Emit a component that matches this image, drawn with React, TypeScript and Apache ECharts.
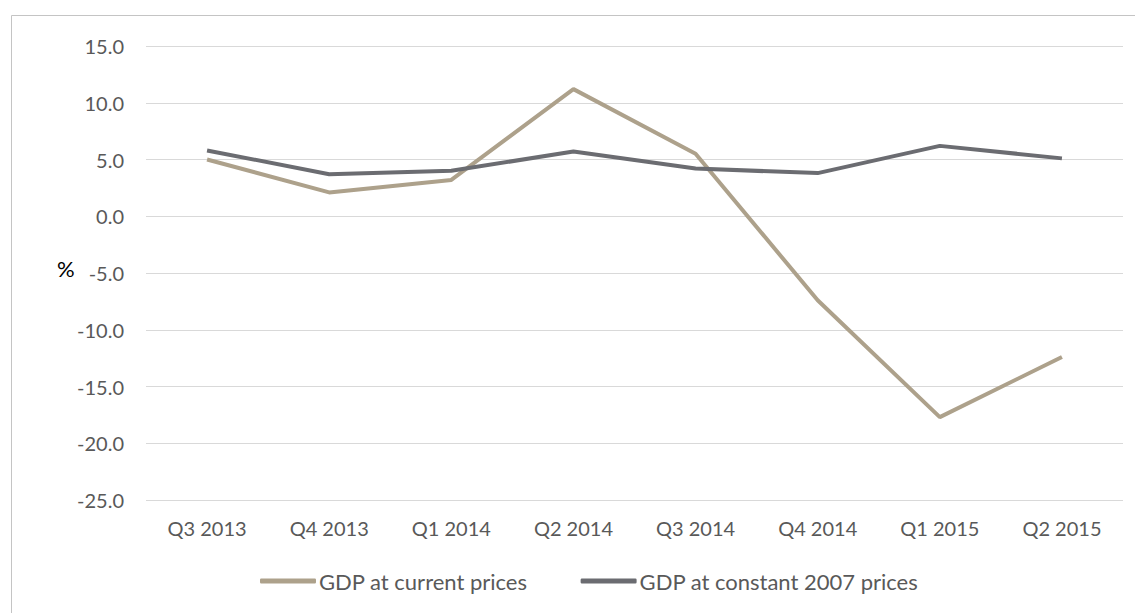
import React, { useEffect, useRef } from "react";
import * as echarts from "echarts";

const categories = ["Q3 2013", "Q4 2013", "Q1 2014", "Q2 2014", "Q3 2014", "Q4 2014", "Q1 2015", "Q2 2015"];
const currentPrices = [5.0, 2.1, 3.2, 11.2, 5.5, -7.4, -17.7, -12.4];
const constantPrices = [5.8, 3.7, 4.0, 5.7, 4.2, 3.8, 6.2, 5.1];
const seriesNames = ["GDP at current prices", "GDP at constant 2007 prices"];

const FONT = "Lato, 'Open Sans', sans-serif";

export default function App() {
  const ref = useRef<HTMLDivElement>(null);
  useEffect(() => {
    if (!ref.current) return;
    const chart = echarts.init(ref.current, null, { renderer: "svg" });
    chart.setOption({
      animation: false,
      backgroundColor: "#ffffff",
      textStyle: { fontFamily: FONT },
      graphic: [
        {
          type: "polyline",
          shape: { points: [[11.5, 613], [11.5, 15.5], [1135, 15.5]] },
          style: { stroke: "#C4C4C4", lineWidth: 1, fill: "none" },
          silent: true,
        },
        {
          type: "text",
          left: 57,
          top: 257,
          style: { text: "%", fontSize: 22, fill: "#000000", fontFamily: FONT },
        },
      ],
      grid: { left: 146, right: 12, top: 46, bottom: 113, containLabel: false },
      legend: {
        bottom: 16,
        left: 255,
        itemWidth: 56,
        itemHeight: 5,
        itemGap: 53,
        icon: "roundRect",
        data: seriesNames,
        textStyle: { color: "#595959", fontSize: 22, fontFamily: FONT, padding: [0, 0, 0, -2] },
      },
      xAxis: {
        type: "category",
        data: categories,
        boundaryGap: true,
        axisLine: { show: false },
        axisTick: { show: false },
        axisLabel: { color: "#595959", fontSize: 20, margin: 18, fontFamily: FONT },
        splitLine: { show: false },
      },
      yAxis: {
        type: "value",
        min: -25,
        max: 15,
        interval: 5,
        axisLine: { show: false },
        axisTick: { show: false },
        axisLabel: {
          color: "#595959",
          fontSize: 20,
          margin: 22,
          fontFamily: FONT,
          formatter: (v: number) => v.toFixed(1),
        },
        splitLine: { lineStyle: { color: "#D9D9D9", width: 1 } },
      },
      series: [
        {
          name: seriesNames[0],
          type: "line",
          data: currentPrices,
          symbol: "none",
          lineStyle: { color: "#ADA18B", width: 4 },
          itemStyle: { color: "#ADA18B" },
        },
        {
          name: seriesNames[1],
          type: "line",
          data: constantPrices,
          symbol: "none",
          lineStyle: { color: "#6B6C71", width: 4 },
          itemStyle: { color: "#6B6C71" },
        },
      ],
    });
    return () => chart.dispose();
  }, []);
  return <div ref={ref} style={{ position: "fixed", left: 0, top: 0, width: 1135, height: 613 }} />;
}
